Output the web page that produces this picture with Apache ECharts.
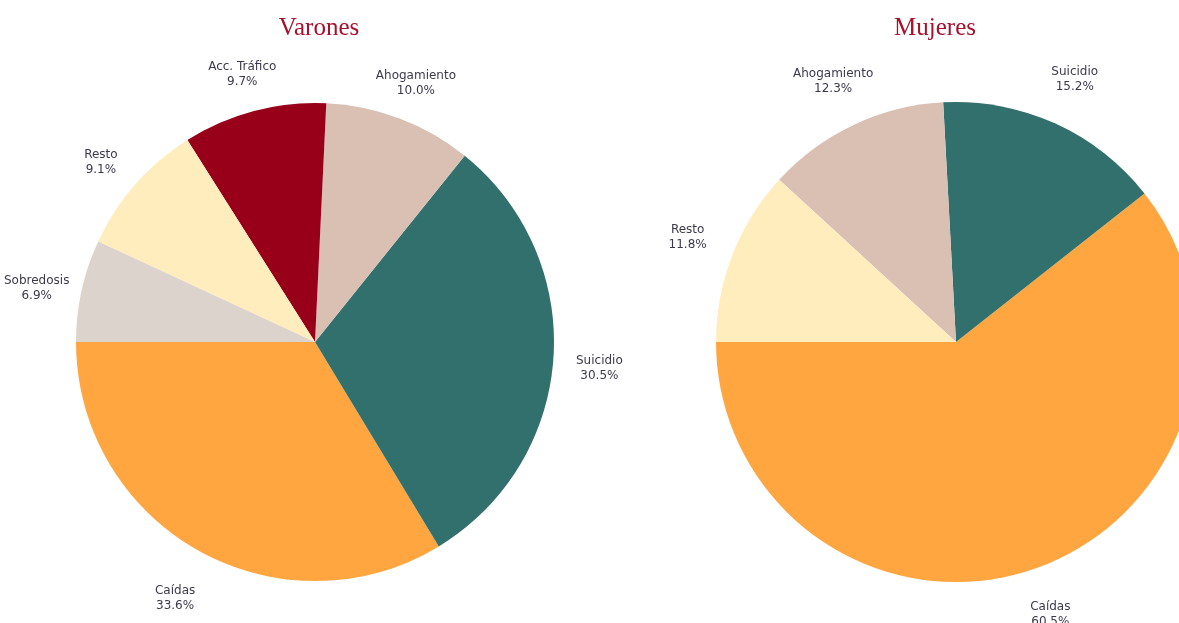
<!DOCTYPE html>
<html>
<head>
<meta charset="utf-8">
<script src="https://cdn.jsdelivr.net/npm/echarts@6/dist/echarts.min.js"></script>
<style>html,body{margin:0;padding:0;background:#fff;}#c{width:1179px;height:623px;}</style>
</head>
<body>
<div id="c"></div>
<script>
const titleV = 'Varones';
const titleM = 'Mujeres';
const categoriesV = ['Caídas', 'Suicidio', 'Ahogamiento', 'Acc. Tráfico', 'Resto', 'Sobredosis'];
const valuesV = [33.6, 30.5, 10.0, 9.7, 9.1, 6.9];
const categoriesM = ['Caídas', 'Suicidio', 'Ahogamiento', 'Resto'];
const valuesM = [60.5, 15.2, 12.3, 11.8];

const colorMap = {
  'Caídas': '#FFA640',
  'Suicidio': '#32706D',
  'Ahogamiento': '#D9C0B3',
  'Acc. Tráfico': '#98001A',
  'Resto': '#FFEDBE',
  'Sobredosis': '#DCD4CC'
};

const pies = [
  { cats: categoriesV, vals: valuesV, center: [315, 342], r: 239, labelDist: 285, labelYOffset: 8 },
  { cats: categoriesM, vals: valuesM, center: [956, 342], r: 240, labelDist: 288, labelYOffset: 0 }
];

function makeLayout(idx) {
  const p = pies[idx];
  const total = p.vals.reduce((a, b) => a + b, 0);
  return function (params) {
    let cum = 0;
    for (let i = 0; i < params.dataIndex; i++) cum += p.vals[i];
    const mid = (180 + 360 * (cum + p.vals[params.dataIndex] / 2) / total) * Math.PI / 180;
    return {
      x: p.center[0] + p.labelDist * Math.cos(mid),
      y: p.center[1] + p.labelYOffset - p.labelDist * Math.sin(mid),
      align: 'center',
      verticalAlign: 'middle'
    };
  };
}

const series = pies.map((p, idx) => ({
  type: 'pie',
  center: p.center,
  radius: p.r,
  startAngle: 180,
  clockwise: false,
  avoidLabelOverlap: false,
  animation: false,
  emphasis: { disabled: true },
  data: p.cats.map((c, i) => ({ name: c, value: p.vals[i], itemStyle: { color: colorMap[c] } })),
  itemStyle: { borderWidth: 0 },
  label: {
    show: true,
    position: 'outside',
    formatter: (d) => d.name + '\n' + d.value.toFixed(1) + '%',
    fontFamily: 'DejaVu Sans',
    fontSize: 12,
    lineHeight: 15,
    color: '#3a3a4c',
    align: 'center'
  },
  labelLine: { show: false },
  labelLayout: makeLayout(idx)
}));

const chart = echarts.init(document.getElementById('c'), null, { renderer: 'canvas' });
chart.setOption({
  backgroundColor: '#ffffff',
  animation: false,
  title: [
    { text: titleV, left: 314, top: 11, textAlign: 'center',
      textStyle: { fontFamily: 'Liberation Serif', fontSize: 25, fontWeight: 'normal', color: '#A8102C' } },
    { text: titleM, left: 930, top: 11, textAlign: 'center',
      textStyle: { fontFamily: 'Liberation Serif', fontSize: 25, fontWeight: 'normal', color: '#A8102C' } }
  ],
  series: series
});
</script>
</body>
</html>
